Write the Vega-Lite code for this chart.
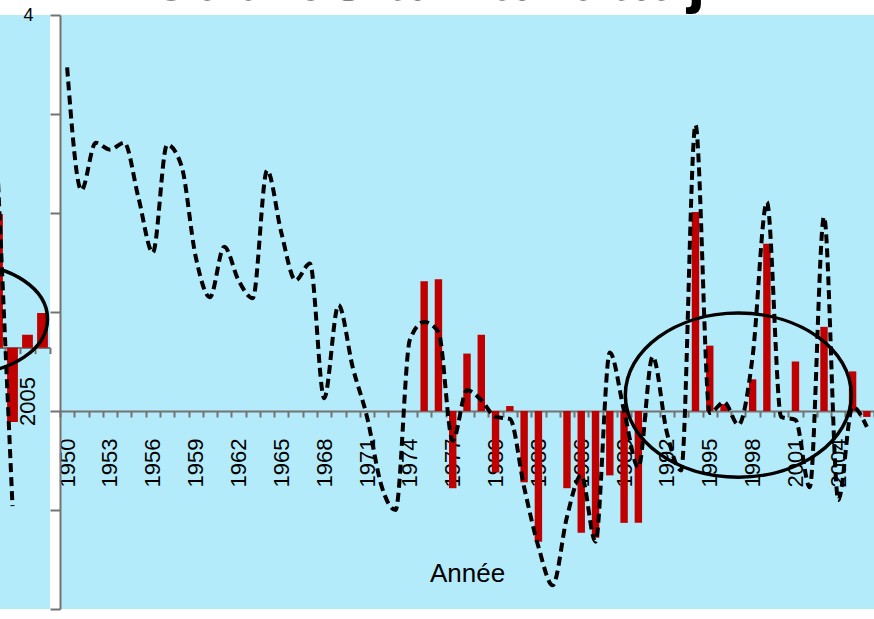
{
  "$schema": "https://vega.github.io/schema/vega-lite/v6.json",
  "autosize": "none",
  "padding": {"left": 0, "top": 15, "right": 0, "bottom": 10},
  "background": "white",
  "params": [{"name": "width", "value": 874}, {"name": "height", "value": 594}],
  "spacing": 10,
  "bounds": "flush",
  "config": {"view": {"stroke": null}, "font": "Liberation Sans"},
  "datasets": {
    "main": [
      {"year": 1950, "bar": null, "line": 3.47},
      {"year": 1951, "bar": null, "line": 2.23},
      {"year": 1952, "bar": null, "line": 2.71},
      {"year": 1953, "bar": null, "line": 2.64},
      {"year": 1954, "bar": null, "line": 2.71},
      {"year": 1955, "bar": null, "line": 2.15},
      {"year": 1956, "bar": null, "line": 1.60},
      {"year": 1957, "bar": null, "line": 2.69},
      {"year": 1958, "bar": null, "line": 2.48},
      {"year": 1959, "bar": null, "line": 1.56},
      {"year": 1960, "bar": null, "line": 1.15},
      {"year": 1961, "bar": null, "line": 1.66},
      {"year": 1962, "bar": null, "line": 1.32},
      {"year": 1963, "bar": null, "line": 1.14},
      {"year": 1964, "bar": null, "line": 2.43},
      {"year": 1965, "bar": null, "line": 1.80},
      {"year": 1966, "bar": null, "line": 1.32},
      {"year": 1967, "bar": null, "line": 1.49},
      {"year": 1968, "bar": null, "line": 0.13},
      {"year": 1969, "bar": null, "line": 1.07},
      {"year": 1970, "bar": null, "line": 0.44},
      {"year": 1971, "bar": null, "line": -0.06},
      {"year": 1972, "bar": null, "line": -0.75},
      {"year": 1973, "bar": null, "line": -1.00},
      {"year": 1974, "bar": null, "line": 0.72},
      {"year": 1975, "bar": 1.31, "line": 0.90},
      {"year": 1976, "bar": 1.33, "line": 0.80},
      {"year": 1977, "bar": -0.78, "line": -0.30},
      {"year": 1978, "bar": 0.58, "line": 0.21},
      {"year": 1979, "bar": 0.77, "line": 0.11},
      {"year": 1980, "bar": -0.62, "line": -0.06},
      {"year": 1981, "bar": 0.05, "line": -0.08},
      {"year": 1982, "bar": -0.72, "line": -0.77},
      {"year": 1983, "bar": -1.32, "line": -1.37},
      {"year": 1984, "bar": null, "line": -1.76},
      {"year": 1985, "bar": -0.78, "line": -1.07},
      {"year": 1986, "bar": -1.23, "line": -0.65},
      {"year": 1987, "bar": -1.28, "line": -1.32},
      {"year": 1988, "bar": -0.65, "line": 0.59},
      {"year": 1989, "bar": -1.13, "line": 0.00},
      {"year": 1990, "bar": -1.13, "line": -0.57},
      {"year": 1991, "bar": null, "line": 0.55},
      {"year": 1992, "bar": null, "line": -0.22},
      {"year": 1993, "bar": null, "line": -0.60},
      {"year": 1994, "bar": 2.01, "line": 2.89},
      {"year": 1995, "bar": 0.66, "line": -0.02},
      {"year": 1996, "bar": 0.07, "line": 0.09},
      {"year": 1997, "bar": null, "line": -0.14},
      {"year": 1998, "bar": 0.32, "line": 0.55},
      {"year": 1999, "bar": 1.69, "line": 2.11},
      {"year": 2000, "bar": null, "line": -0.06},
      {"year": 2001, "bar": 0.50, "line": -0.09},
      {"year": 2002, "bar": null, "line": -0.77},
      {"year": 2003, "bar": 0.85, "line": 1.96},
      {"year": 2004, "bar": null, "line": -0.90},
      {"year": 2005, "bar": 0.40, "line": 0.04},
      {"year": 2006, "bar": -0.06, "line": -0.16}
    ],
    "ellipse": [{"year": 1997, "value": 0.16}],
    "strip": [
      {"year": 2003, "bar": 1.35, "line": 1.8},
      {"year": 2004, "bar": -0.75, "line": -1.6},
      {"year": 2005, "bar": 0.13, "line": null},
      {"year": 2006, "bar": 0.35, "line": null}
    ],
    "strip_ellipse": [{"year": 2001, "value": 0.29}]
  },
  "hconcat": [
    {
      "width": 50,
      "height": 594,
      "view": {"fill": "#b4ebfa", "stroke": null},
      "encoding": {
        "x": {
          "field": "year", "type": "ordinal",
          "scale": {"domain": [2001, 2002, 2003, 2004, 2005, 2006], "range": [-40, 50], "paddingInner": 0, "paddingOuter": 0},
          "axis": {
            "title": null, "orient": "bottom", "offset": -261.4,
            "domainColor": "#737373", "domainWidth": 2,
            "tickColor": "#737373", "tickWidth": 2, "tickSize": 6, "tickBand": "extent",
            "labelAngle": -90, "labelFontSize": 22, "labelColor": "black", "labelPadding": 23,
            "labelOverlap": false,
            "labelExpr": "datum.value == 2005 ? '2005' : ''", "grid": false
          }
        }
      },
      "layer": [
        {
          "data": {"name": "strip"},
          "mark": {"type": "bar", "color": "#c00000", "clip": true, "width": {"band": 0.72}},
          "encoding": {
            "y": {"field": "bar", "type": "quantitative", "scale": {"domain": [-2.64, 3.36], "nice": false, "zero": false}, "axis": null}
          }
        },
        {
          "data": {"name": "strip"},
          "mark": {"type": "line", "color": "black", "strokeWidth": 4, "strokeDash": [9, 5], "clip": true},
          "encoding": {
            "y": {"field": "line", "type": "quantitative", "axis": null}
          }
        },
        {
          "data": {"name": "strip_ellipse"},
          "mark": {"type": "point", "shape": "M -1 0 A 1 0.675 0 1 1 1 0 A 1 0.675 0 1 1 -1 0 Z", "size": 25600, "filled": false, "stroke": "black", "strokeWidth": 3.5, "opacity": 1, "clip": true},
          "encoding": {
            "y": {"field": "value", "type": "quantitative", "axis": null}
          }
        }
      ]
    },
    {
      "width": 814,
      "height": 594,
      "view": {"fill": "#b4ebfa", "stroke": null},
      "title": {"text": "Modules à Kandadji", "fontSize": 67, "fontWeight": "bold", "font": "Liberation Sans", "color": "black", "anchor": "start", "frame": "group", "offset": -49, "baseline": "alphabetic", "dx": 35, "dy": 12},
      "encoding": {
        "x": {
          "field": "year", "type": "ordinal",
          "scale": {"domain": [1950,1951,1952,1953,1954,1955,1956,1957,1958,1959,1960,1961,1962,1963,1964,1965,1966,1967,1968,1969,1970,1971,1972,1973,1974,1975,1976,1977,1978,1979,1980,1981,1982,1983,1984,1985,1986,1987,1988,1989,1990,1991,1992,1993,1994,1995,1996,1997,1998,1999,2000,2001,2002,2003,2004,2005,2006], "paddingInner": 0, "paddingOuter": 0},
          "axis": {
            "title": "Année", "titleFontSize": 26, "titleFontWeight": "normal", "titleColor": "black", "titlePadding": 74,
            "orient": "bottom", "offset": -198,
            "domainColor": "#737373", "domainWidth": 2,
            "tickColor": "#737373", "tickWidth": 2, "tickSize": 6, "tickBand": "extent",
            "labelAngle": -90, "labelFontSize": 22, "labelColor": "black", "labelPadding": 21,
            "labelOverlap": false,
            "labelExpr": "(datum.value - 1950) % 3 == 0 ? datum.label : ''", "grid": false
          }
        }
      },
      "layer": [
        {
          "data": {"name": "main"},
          "mark": {"type": "bar", "color": "#c00000", "width": {"band": 0.52}},
          "encoding": {
            "y": {
              "field": "bar", "type": "quantitative",
              "scale": {"domain": [-2, 4], "nice": false},
              "axis": {
                "title": null, "orient": "left",
                "values": [-2, -1, 0, 1, 2, 3, 4], "grid": false,
                "domainColor": "#737373", "domainWidth": 2,
                "tickColor": "#737373", "tickWidth": 2, "tickSize": 10,
                "labelFontSize": 18, "labelColor": "black", "labelPadding": 17,
                "labelExpr": "datum.value == 4 ? '4' : ''"
              }
            }
          }
        },
        {
          "data": {"name": "main"},
          "mark": {"type": "line", "color": "black", "strokeWidth": 4, "strokeDash": [9, 5], "interpolate": "monotone"},
          "encoding": {
            "y": {
              "field": "line", "type": "quantitative",
              "axis": {
                "title": null, "orient": "left",
                "values": [-2, -1, 0, 1, 2, 3, 4], "grid": false,
                "domainColor": "#737373", "domainWidth": 2,
                "tickColor": "#737373", "tickWidth": 2, "tickSize": 10,
                "labelFontSize": 18, "labelColor": "black", "labelPadding": 17,
                "labelExpr": "datum.value == 4 ? '4' : ''"
              }
            }
          }
        },
        {
          "data": {"name": "ellipse"},
          "mark": {"type": "point", "shape": "M -1 0 A 1 0.726 0 1 1 1 0 A 1 0.726 0 1 1 -1 0 Z", "size": 51076, "filled": false, "stroke": "black", "strokeWidth": 3.5, "opacity": 1},
          "encoding": {
            "y": {
              "field": "value", "type": "quantitative",
              "axis": {
                "title": null, "orient": "left",
                "values": [-2, -1, 0, 1, 2, 3, 4], "grid": false,
                "domainColor": "#737373", "domainWidth": 2,
                "tickColor": "#737373", "tickWidth": 2, "tickSize": 10,
                "labelFontSize": 18, "labelColor": "black", "labelPadding": 17,
                "labelExpr": "datum.value == 4 ? '4' : ''"
              }
            }
          }
        }
      ]
    }
  ]
}
